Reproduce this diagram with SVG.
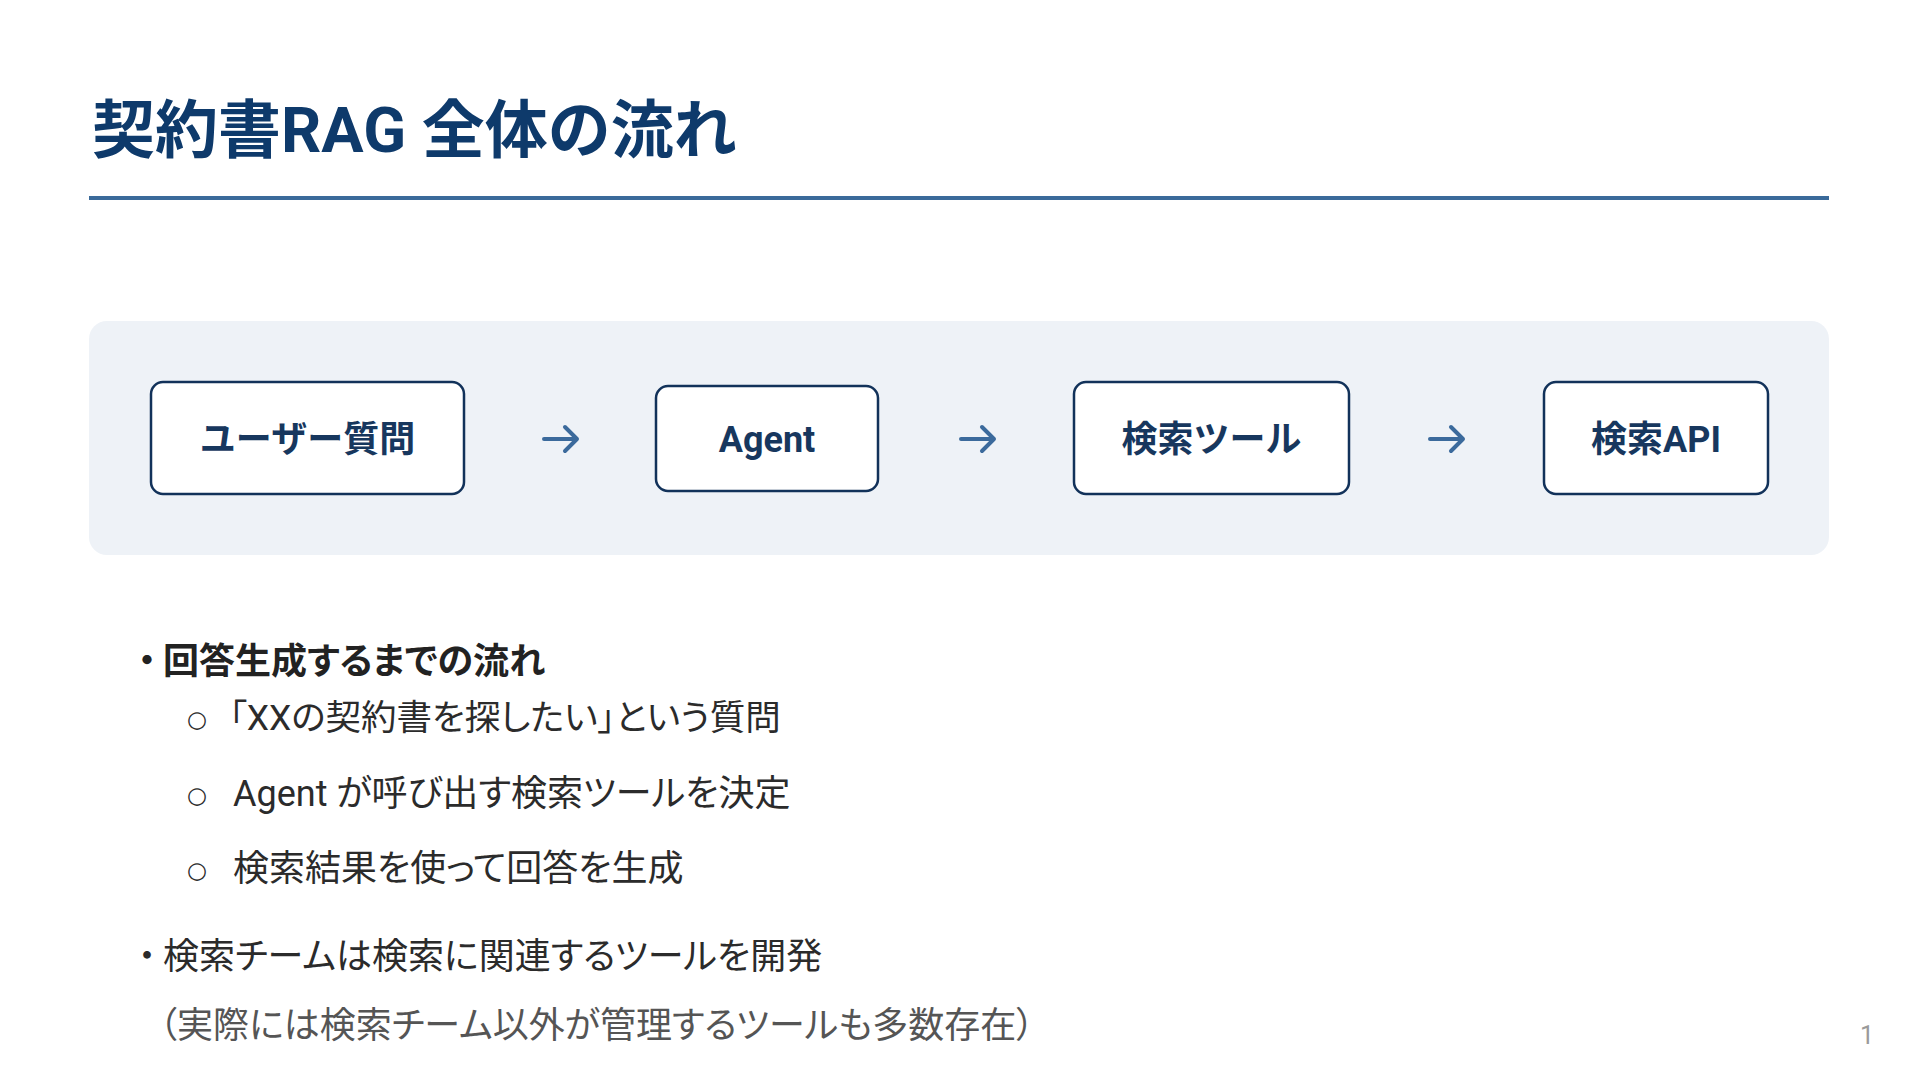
<svg xmlns="http://www.w3.org/2000/svg" width="1920" height="1080" viewBox="0 0 1920 1080">
<style>
.title{font-family:Roboto,"Noto Sans CJK JP",sans-serif;font-weight:700;font-size:63px;fill:#0e3a6b}
.box{fill:#ffffff;stroke:#12325a;stroke-width:2.5}
.lbl{font-family:Roboto,"Noto Sans CJK JP",sans-serif;font-weight:700;font-size:36px;fill:#17375e;text-anchor:middle;dominant-baseline:central}
.arrow{fill:none;stroke:#3b6a9c;stroke-width:4;stroke-linecap:round;stroke-linejoin:round}
.b{font-family:Roboto,"Noto Sans CJK JP",sans-serif;font-size:36px;fill:#2b2b2b;font-feature-settings:"palt"}
.bb{font-weight:700;fill:#222}
.note{fill:#555}
.o{font-family:"DejaVu Sans",sans-serif;font-size:23px;fill:#2b2b2b}
</style>
<rect width="1920" height="1080" fill="#ffffff"/>
<g id="title">
<text class="title" x="92" y="152">契約書RAG 全体の流れ</text>
<rect x="89" y="196" width="1740" height="4" fill="#3a6a9a"/>
</g>
<rect id="panel" x="89" y="321" width="1740" height="234" rx="18" fill="#eef2f7"/>
<g id="node-user">
<rect class="box" x="151" y="382" width="313" height="112" rx="12"/>
<text class="lbl" x="307.5" y="440">ユーザー質問</text>
</g>
<g id="node-agent">
<rect class="box" x="656" y="386" width="222" height="105" rx="12"/>
<text class="lbl" x="767" y="440">Agent</text>
</g>
<g id="node-tool">
<rect class="box" x="1074" y="382" width="275" height="112" rx="12"/>
<text class="lbl" x="1211.5" y="440">検索ツール</text>
</g>
<g id="node-api">
<rect class="box" x="1544" y="382" width="224" height="112" rx="12"/>
<text class="lbl" x="1656" y="440">検索API</text>
</g>
<g id="connectors">
<path class="arrow" d="M544 439 H577 M565 427 L577 439 L565 451"/>
<path class="arrow" d="M961 439 H994 M982 427 L994 439 L982 451"/>
<path class="arrow" d="M1430 439 H1463 M1451 427 L1463 439 L1451 451"/>
</g>
<g id="bullets">
<text class="b bb" x="138" y="674">・</text>
<text class="b bb" x="163" y="674">回答生成するまでの流れ</text>
<text class="o" x="187" y="727">○</text>
<text class="b" x="229" y="730" style="font-size:35.5px">「XXの契約書を探したい」という質問</text>
<text class="o" x="187" y="803">○</text>
<text class="b" x="233" y="806">Agent が呼び出す検索ツールを決定</text>
<text class="o" x="187" y="878">○</text>
<text class="b" x="233" y="881">検索結果を使って回答を生成</text>
<text class="b" x="138" y="969">・</text>
<text class="b" x="163" y="969">検索チームは検索に関連するツールを開発</text>
<text class="b note" x="159" y="1038">（実際には検索チーム以外が管理するツールも多数存在）</text>
<text x="1860" y="1044" font-family="Roboto,sans-serif" font-size="25" fill="#9a9a9a">1</text>
</g>
</svg>
